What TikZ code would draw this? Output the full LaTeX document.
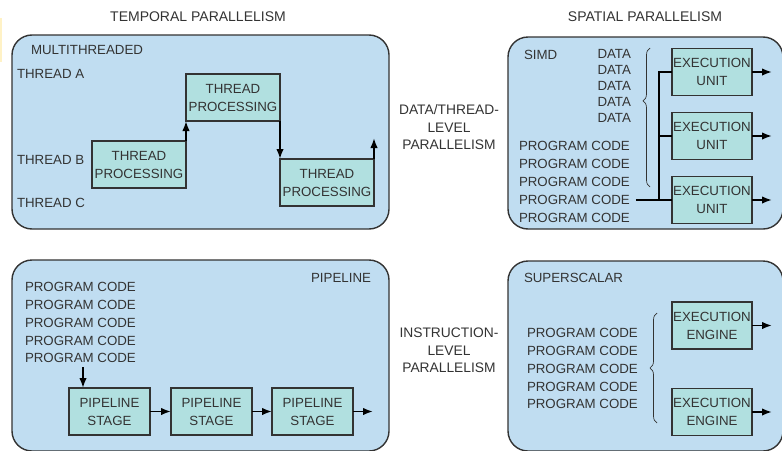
\documentclass[tikz,border=0pt]{standalone}
\usepackage{fontspec}
\setmainfont{Liberation Sans}
\usetikzlibrary{arrows.meta,decorations.pathreplacing,calc}
\definecolor{panelblue}{HTML}{C0DDF1}
\definecolor{boxteal}{HTML}{B1E0E0}
\definecolor{txtgray}{HTML}{333333}
\definecolor{edgegray}{HTML}{333333}
\definecolor{paleyellow}{HTML}{FFF2C6}
\begin{document}
\begin{tikzpicture}[x=1pt,y=-1pt,
  every node/.style={font=\fontsize{13.3}{18}\selectfont, text=txtgray, inner sep=0pt, outer sep=0pt},
  panel/.style={draw=edgegray, fill=panelblue, line width=1.4pt, rounded corners=20pt},
  unitbox/.style={draw=edgegray, fill=boxteal, line width=1.5pt, minimum width=80pt, minimum height=47pt, align=center},
  procbox/.style={unitbox, minimum width=94pt},
  lbl/.style={text height=9.5pt, text depth=0pt},
  ttl/.style={lbl, font=\fontsize{14}{18}\selectfont},
  arr/.style={-{Latex[length=10pt,width=7.5pt]}, line width=1.7pt, draw=black},
  wire/.style={line width=1.4pt, draw=black},
  brc/.style={decorate, decoration={brace, amplitude=7pt, aspect=#1}, draw=txtgray, line width=0.7pt}
]
\useasboundingbox (0,0) rectangle (782,450);
\fill[paleyellow] (0,18) rectangle (2,62);

% panels
\node[panel, minimum width=377pt, minimum height=194pt] (pTL) at (200.5,132) {};
\node[panel, minimum width=275pt, minimum height=192pt] (pTR) at (645.5,133) {};
\node[panel, minimum width=377pt, minimum height=191pt] (pBL) at (200.5,355.5) {};
\node[panel, minimum width=275pt, minimum height=190pt] (pBR) at (645.5,356) {};

% titles
\node[ttl] (tTemp) at (198,17) {TEMPORAL PARALLELISM};
\node[ttl] (tSpat) at (645,17) {SPATIAL PARALLELISM};
\node[align=center, font=\fontsize{13.8}{17.5}\selectfont] (mDat) at (449,127.5) {DATA/THREAD-\\LEVEL\\PARALLELISM};
\node[align=center, font=\fontsize{13.8}{17.5}\selectfont] (mIns) at (449,350.5) {INSTRUCTION-\\LEVEL\\PARALLELISM};

% multithreaded
\node[lbl, anchor=west] (mt) at (31,50) {MULTITHREADED};
\node[lbl, anchor=west] (thA) at (17,74) {THREAD A};
\node[lbl, anchor=west] (thB) at (17,160) {THREAD B};
\node[lbl, anchor=west] (thC) at (17,203) {THREAD C};
\node[procbox] (tp1) at (139,164.5) {THREAD\\PROCESSING};
\node[procbox] (tp2) at (233,97.5) {THREAD\\PROCESSING};
\node[procbox] (tp3) at (327,182.5) {THREAD\\PROCESSING};
\coordinate (tpOut) at (374,138);
\draw[arr] (tp1.north east) -- (tp2.south west);
\draw[arr] (tp2.south east) -- (tp3.north west);
\draw[arr] (tp3.north east) -- (tpOut);

% SIMD
\node[lbl, anchor=west] (simd) at (524,55) {SIMD};
\foreach \i/\y in {1/54,2/70,3/86,4/102,5/118}
  \node[lbl, anchor=east] (dat\i) at (631,\y) {DATA};
\foreach \i/\y in {1/146,2/164,3/182,4/200,5/218}
  \node[lbl, anchor=west] (spc\i) at (519,\y) {PROGRAM CODE};
\draw[brc=0.62] (650,187) -- (650,48);
\node[unitbox] (eu1) at (712,72) {EXECUTION\\UNIT};
\node[unitbox] (eu2) at (712,136) {EXECUTION\\UNIT};
\node[unitbox] (eu3) at (712,200) {EXECUTION\\UNIT};
\coordinate (bus) at (659,0);
\draw[wire] ([xshift=6pt]spc4.east) -- (eu3.west);
\draw[wire] (eu1.west) -- (eu1.west -| bus) -- (eu3.west -| bus);
\draw[wire] (eu2.west -| bus) -- (eu2.west);
\foreach \i in {1,2,3}{
  \coordinate (euo\i) at ($(eu\i.east)+(20,0)$);
  \draw[arr] (eu\i.east) -- (euo\i);
}

% pipeline
\node[lbl, anchor=east] (pipe) at (371,278) {PIPELINE};
\foreach \i/\y in {1/287,2/304.75,3/322.5,4/340.25,5/358}
  \node[lbl, anchor=west] (ppc\i) at (25,\y) {PROGRAM CODE};
\node[unitbox, minimum width=81pt] (ps1) at (109.5,411.5) {PIPELINE\\STAGE};
\node[unitbox, minimum width=81pt] (ps2) at (211.5,411.5) {PIPELINE\\STAGE};
\node[unitbox, minimum width=81pt] (ps3) at (312.5,411.5) {PIPELINE\\STAGE};
\coordinate (pin) at (83,367);
\coordinate (pout) at (373,411.5);
\draw[arr] (pin) -- (pin |- ps1.north);
\draw[arr] (ps1.east) -- (ps2.west);
\draw[arr] (ps2.east) -- (ps3.west);
\draw[arr] (ps3.east) -- (pout);

% superscalar
\node[lbl, anchor=west] (ssc) at (524,278) {SUPERSCALAR};
\foreach \i/\y in {1/333,2/350.75,3/368.5,4/386.25,5/404}
  \node[lbl, anchor=west] (bpc\i) at (527,\y) {PROGRAM CODE};
\draw[brc=0.5] (657,423) -- (657,313);
\node[unitbox] (ee1) at (712,325.5) {EXECUTION\\ENGINE};
\node[unitbox] (ee2) at (712,412) {EXECUTION\\ENGINE};
\foreach \i in {1,2}{
  \coordinate (eeo\i) at ($(ee\i.east)+(20,0)$);
  \draw[arr] (ee\i.east) -- (eeo\i);
}
\end{tikzpicture}
\end{document}
